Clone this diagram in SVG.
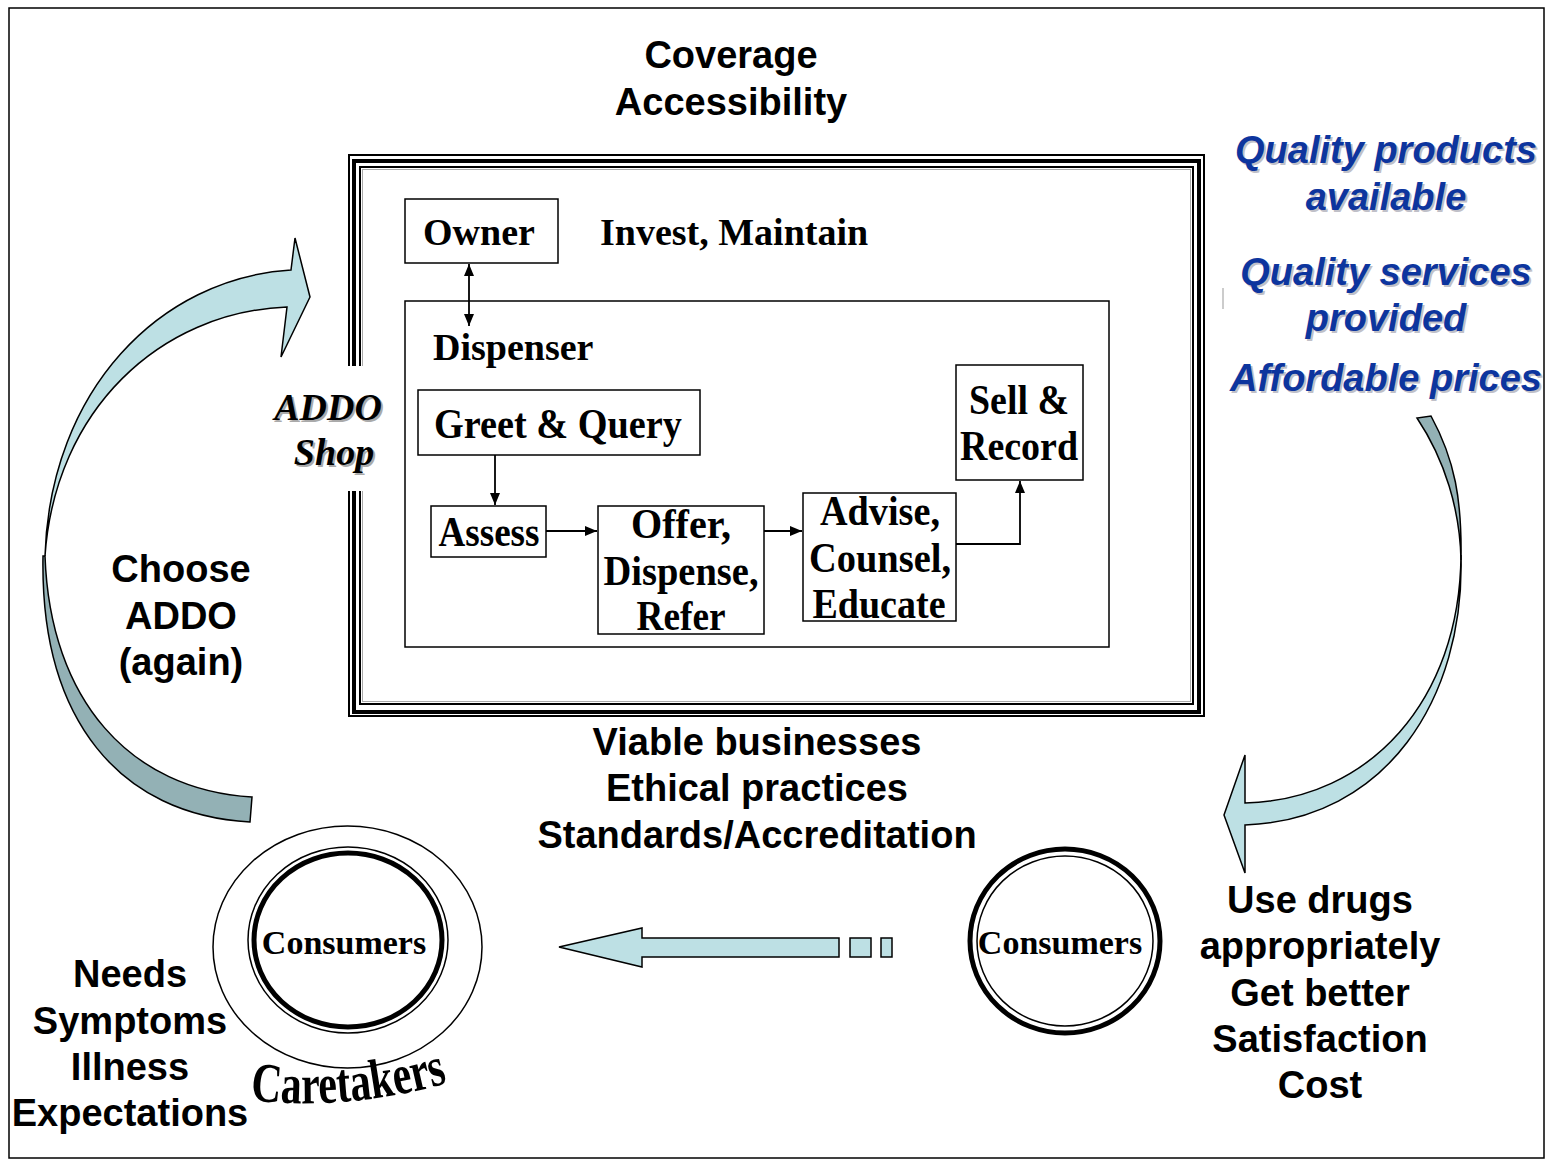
<svg xmlns="http://www.w3.org/2000/svg" width="1546" height="1159" viewBox="0 0 1546 1159">
<style>
.t{font-family:"Liberation Serif","Times New Roman",serif;font-weight:bold;font-size:38px;fill:#000}
.tc{font-family:"Liberation Serif","Times New Roman",serif;font-weight:bold;font-size:43px;fill:#000;text-anchor:middle}
.s{font-family:"Liberation Sans",Arial,sans-serif;font-weight:bold;font-size:38px;fill:#000;text-anchor:middle}
.b{font-family:"Liberation Sans",Arial,sans-serif;font-weight:bold;font-style:italic;font-size:38px;text-anchor:middle}
.bf{fill:#0d359e}
.bs{fill:#c0c0c8}
.box{fill:#fff;stroke:#000;stroke-width:1.5}
.conn{fill:none;stroke:#000;stroke-width:1.8}
.lt{fill:#bde0e4;stroke:#000;stroke-width:1.5;stroke-linejoin:miter}
.dk{fill:#93b1b5;stroke:#000;stroke-width:1.5;stroke-linejoin:miter}
.cons{font-family:"Liberation Serif","Times New Roman",serif;font-weight:bold;font-size:34px;text-anchor:middle}
</style>
<defs>
<marker id="ah" viewBox="0 0 12 10" refX="12" refY="5" markerWidth="12" markerHeight="10" markerUnits="userSpaceOnUse" orient="auto-start-reverse">
<path d="M0,0 L12,5 L0,10 Z" fill="#000"/>
</marker>
<path id="ctp" d="M 250 1100 Q 345 1112 452 1082"/>
</defs>
<rect x="0" y="0" width="1546" height="1159" fill="#fff"/>
<rect x="9" y="8" width="1535" height="1150" fill="none" stroke="#000" stroke-width="1.5"/>

<g id="addo-shop">
<rect x="349" y="155" width="855" height="561" fill="none" stroke="#000" stroke-width="2"/>
<rect x="354" y="161" width="845" height="551" fill="none" stroke="#000" stroke-width="4"/>
<rect x="360" y="167" width="833" height="537" fill="none" stroke="#000" stroke-width="2"/>
<rect x="362.5" y="169.5" width="828" height="532" fill="none" stroke="#aaa" stroke-width="1"/>
<rect x="340" y="366" width="30" height="125" fill="#fff"/>
<g class="t" font-style="italic" text-anchor="middle">
<text x="330" y="422" fill="#aaa">ADDO</text>
<text x="336" y="467" fill="#aaa">Shop</text>
<text x="328" y="420">ADDO</text>
<text x="334" y="465">Shop</text>
</g>
</g>

<g id="owner">
<rect class="box" x="405" y="199" width="153" height="64"/>
<text class="t" x="479" y="245" text-anchor="middle">Owner</text>
</g>
<text class="t" x="600" y="245">Invest, Maintain</text>

<g id="dispenser">
<rect class="box" x="405" y="301" width="704" height="346"/>
<text class="t" x="433" y="360">Dispenser</text>
</g>

<g id="greet">
<rect class="box" x="418" y="390" width="282" height="65"/>
<text class="tc" x="558" y="438" textLength="248" lengthAdjust="spacingAndGlyphs">Greet &amp; Query</text>
</g>
<g id="assess">
<rect class="box" x="431" y="506" width="115" height="51"/>
<text class="tc" x="489" y="546" textLength="101" lengthAdjust="spacingAndGlyphs">Assess</text>
</g>
<g id="offer">
<rect class="box" x="598" y="506" width="166" height="128"/>
<text class="tc" x="681" y="538" textLength="100" lengthAdjust="spacingAndGlyphs">Offer,</text>
<text class="tc" x="681" y="585" textLength="155" lengthAdjust="spacingAndGlyphs">Dispense,</text>
<text class="tc" x="681" y="630" textLength="89" lengthAdjust="spacingAndGlyphs">Refer</text>
</g>
<g id="advise">
<rect class="box" x="803" y="493" width="153" height="128"/>
<text class="tc" x="880" y="525" textLength="120" lengthAdjust="spacingAndGlyphs">Advise,</text>
<text class="tc" x="880" y="572" textLength="142" lengthAdjust="spacingAndGlyphs">Counsel,</text>
<text class="tc" x="879" y="618" textLength="133" lengthAdjust="spacingAndGlyphs">Educate</text>
</g>
<g id="sell">
<rect class="box" x="956" y="365" width="127" height="115"/>
<text class="tc" x="1019" y="414" textLength="100" lengthAdjust="spacingAndGlyphs">Sell &amp;</text>
<text class="tc" x="1019" y="460" textLength="118" lengthAdjust="spacingAndGlyphs">Record</text>
</g>

<g id="connectors">
<line class="conn" x1="469" y1="264" x2="469" y2="326" marker-start="url(#ah)" marker-end="url(#ah)"/>
<line class="conn" x1="495" y1="455" x2="495" y2="505" marker-end="url(#ah)"/>
<line class="conn" x1="546" y1="531" x2="597" y2="531" marker-end="url(#ah)"/>
<line class="conn" x1="764" y1="531" x2="802" y2="531" marker-end="url(#ah)"/>
<polyline class="conn" points="956,544 1020,544 1020,481" marker-end="url(#ah)"/>
<line x1="1223" y1="288" x2="1223" y2="309" stroke="#999" stroke-width="1"/>
</g>

<g id="left-curved-arrow">
<path class="lt" d="M 291 270 L 295 238 L 310 297 L 281 357 L 287 307 C 160 312 55 410 45 556 C 50 390 160 278 291 270 Z"/>
<path class="dk" d="M 45 556 C 50 700 130 790 252 797 L 250 822 C 120 815 40 720 43 556 Z"/>
</g>
<g id="right-curved-arrow">
<path class="dk" d="M 1417 418 C 1445 460 1460 510 1461 560 C 1462 500 1455 460 1431 416 Z"/>
<path class="lt" d="M 1461 555 C 1460 700 1370 800 1245 803 L 1245 755 L 1224 815 L 1245 873 L 1245 825 C 1385 820 1465 700 1461 555 Z"/>
</g>
<g id="straight-arrow">
<path class="lt" d="M 559 947 L 642 928 L 642 938 L 839 938 L 839 957 L 642 957 L 642 967 Z"/>
<rect class="lt" x="850" y="938" width="21" height="19"/>
<rect class="lt" x="881" y="938" width="11" height="19"/>
</g>

<g id="consumers-left">
<ellipse cx="347.5" cy="947" rx="134.5" ry="121" fill="none" stroke="#000" stroke-width="1.5"/>
<ellipse cx="348" cy="940" rx="100" ry="93" fill="none" stroke="#000" stroke-width="1.5"/>
<ellipse cx="348" cy="940" rx="94" ry="87" fill="none" stroke="#000" stroke-width="5"/>
<text class="cons" x="344" y="954">Consumers</text>
<text font-family="'Liberation Serif','Times New Roman',serif" font-weight="bold" font-size="56" textLength="200" lengthAdjust="spacingAndGlyphs"><textPath href="#ctp">Caretakers</textPath></text>
</g>
<g id="consumers-right">
<ellipse cx="1065" cy="941" rx="95" ry="92" fill="none" stroke="#000" stroke-width="5"/>
<ellipse cx="1065" cy="941" rx="88" ry="85" fill="none" stroke="#000" stroke-width="1.5"/>
<text class="cons" x="1060" y="954">Consumers</text>
</g>

<g id="labels">
<text class="s" x="731" y="68">Coverage</text>
<text class="s" x="731" y="115">Accessibility</text>
<text class="s" x="757" y="755">Viable businesses</text>
<text class="s" x="757" y="801">Ethical practices</text>
<text class="s" x="757" y="848">Standards/Accreditation</text>
<text class="s" x="181" y="582">Choose</text>
<text class="s" x="181" y="629">ADDO</text>
<text class="s" x="181" y="675">(again)</text>
<text class="s" x="130" y="987">Needs</text>
<text class="s" x="130" y="1034">Symptoms</text>
<text class="s" x="130" y="1080">Illness</text>
<text class="s" x="130" y="1126">Expectations</text>
<text class="s" x="1320" y="913">Use drugs</text>
<text class="s" x="1320" y="959">appropriately</text>
<text class="s" x="1320" y="1006">Get better</text>
<text class="s" x="1320" y="1052">Satisfaction</text>
<text class="s" x="1320" y="1098">Cost</text>
</g>
<g id="quality" class="b">
<g class="bs" transform="translate(2,2)">
<text x="1386" y="163">Quality products</text>
<text x="1386" y="210">available</text>
<text x="1386" y="285">Quality services</text>
<text x="1386" y="331">provided</text>
<text x="1386" y="391">Affordable prices</text>
</g>
<g class="bf">
<text x="1386" y="163">Quality products</text>
<text x="1386" y="210">available</text>
<text x="1386" y="285">Quality services</text>
<text x="1386" y="331">provided</text>
<text x="1386" y="391">Affordable prices</text>
</g>
</g>
</svg>
